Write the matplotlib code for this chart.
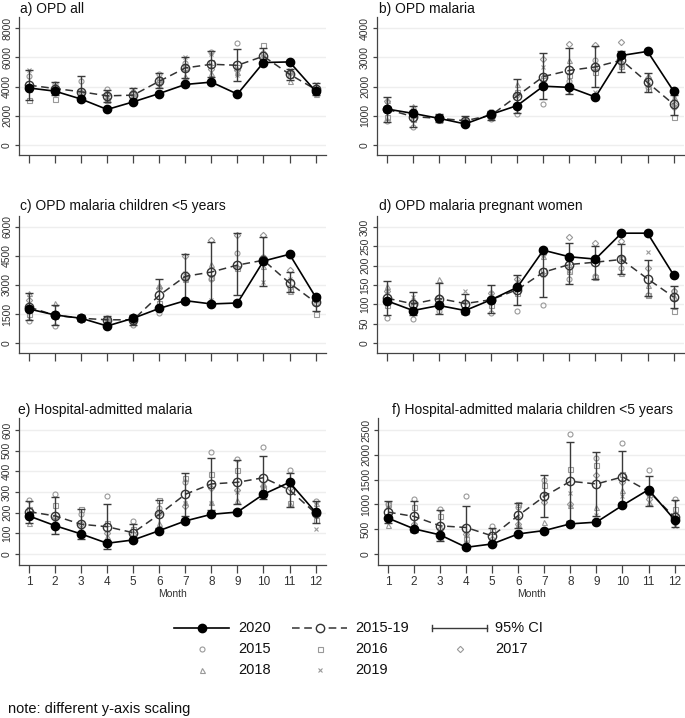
import matplotlib
matplotlib.use("Agg")
import matplotlib.pyplot as plt

plt.rcParams['font.family'] = ['Liberation Sans', 'DejaVu Sans']

months = list(range(1, 13))
year_labels = ["2015", "2016", "2017", "2018", "2019"]
year_markers = ["o", "s", "D", "^", "x"]

titles = ["a) OPD all", "b) OPD malaria", "c) OPD malaria children <5 years",
          "d) OPD malaria pregnant women", "e) Hospital-admitted malaria",
          "f) Hospital-admitted malaria children <5 years"]
y_ticks = [[0, 2000, 4000, 6000, 8000], [0, 1000, 2000, 3000, 4000],
           [0, 1500, 3000, 4500, 6000], [0, 50, 100, 150, 200, 250, 300],
           [0, 100, 200, 300, 400, 500, 600], [0, 500, 1000, 1500, 2000, 2500]]

# ---- a) OPD all
a_2020 = [3900, 3680, 3140, 2430, 2950, 3520, 4140, 4300, 3480, 5640, 5680, 3680]
a_mean = [4090, 3860, 3640, 3360, 3410, 4360, 5270, 5520, 5450, 6070, 4840, 3800]
a_lo = [3110, 3450, 3000, 2950, 2950, 3930, 4550, 4660, 4360, 5570, 4430, 3410]
a_hi = [5160, 4320, 4700, 3750, 3930, 4930, 6020, 6400, 6550, 6640, 5230, 4250]
a_years = [
    [4700, 4150, 4400, 3800, 3600, 4850, 5600, 6350, 6950, 6300, 5000, 4000],
    [3050, 3150, 3500, 3100, 3300, 4500, 5300, 5700, 5300, 6850, 4800, 3600],
    [4000, 4000, 3600, 3400, 3500, 4300, 5200, 5200, 5100, 6000, 4900, 3700],
    [3800, 3900, 3300, 3200, 3400, 4100, 4700, 4900, 5000, 5800, 4400, 3500],
    [5100, 4100, 3400, 3300, 3850, 4050, 6000, 6200, 4800, 6100, 5100, 4200],
]

# ---- b) OPD malaria
b_2020 = [1230, 1080, 910, 720, 1050, 1350, 2010, 1970, 1640, 3060, 3200, 1840]
b_mean = [1220, 970, 910, 830, 1020, 1680, 2340, 2550, 2670, 2900, 2140, 1390]
b_lo = [800, 630, 780, 680, 850, 1080, 1570, 1760, 1970, 2480, 1820, 1020]
b_hi = [1650, 1330, 1050, 1000, 1150, 2260, 3150, 3320, 3380, 3200, 2470, 1700]
b_years = [
    [820, 600, 850, 780, 900, 1050, 1400, 2200, 2900, 2800, 2000, 1300],
    [950, 900, 870, 800, 950, 1800, 2300, 2400, 2500, 2700, 1900, 950],
    [1500, 1000, 950, 850, 1000, 1700, 2950, 3450, 3430, 3530, 2300, 1400],
    [1550, 1350, 900, 900, 1100, 2100, 2400, 2900, 2700, 2800, 2400, 1650],
    [1300, 1000, 980, 820, 1150, 1750, 2650, 1800, 1800, 2700, 2100, 1600],
]

# ---- c) OPD malaria children <5 years
c_2020 = [1760, 1450, 1280, 880, 1280, 1790, 2190, 2020, 2070, 4240, 4590, 2380]
c_mean = [1860, 1430, 1280, 1200, 1200, 2470, 3450, 3670, 4030, 4280, 3100, 2100]
c_lo = [1170, 930, 1120, 1000, 950, 1760, 2200, 2140, 2500, 2930, 2620, 1670]
c_hi = [2590, 1980, 1450, 1400, 1450, 3310, 4600, 5200, 5690, 5470, 3650, 2500]
c_years = [
    [1150, 870, 1180, 1050, 950, 1550, 3300, 3300, 4650, 4450, 2900, 2050],
    [1500, 1400, 1250, 1150, 1100, 2050, 3350, 3400, 3900, 4200, 2800, 1500],
    [2200, 1500, 1300, 1250, 1250, 2850, 4500, 5350, 5600, 5600, 3750, 2200],
    [2600, 2050, 1350, 1300, 1450, 3000, 3300, 4100, 4000, 4000, 2700, 2300],
    [1850, 1350, 1300, 1250, 1300, 2900, 3600, 2200, 2000, 3150, 3300, 2450],
]

# ---- d) OPD malaria pregnant women
d_2020 = [109, 84, 97, 84, 112, 144, 240, 223, 217, 284, 284, 176]
d_mean = [116, 101, 115, 102, 112, 138, 183, 203, 209, 216, 166, 119]
d_lo = [73, 73, 76, 76, 78, 97, 118, 153, 165, 178, 121, 91]
d_hi = [160, 131, 155, 128, 151, 177, 245, 258, 252, 257, 214, 148]
d_years = [
    [65, 62, 82, 85, 78, 83, 97, 165, 172, 195, 125, 135],
    [98, 100, 100, 85, 98, 130, 190, 185, 170, 220, 125, 82],
    [135, 105, 120, 105, 130, 165, 230, 273, 258, 265, 193, 135],
    [148, 115, 165, 110, 125, 160, 225, 205, 225, 180, 150, 120],
    [135, 120, 105, 135, 130, 150, 175, 185, 220, 220, 235, 125],
]

# ---- e) Hospital-admitted malaria
e_2020 = [184, 137, 97, 52, 68, 113, 160, 192, 203, 289, 347, 202]
e_mean = [205, 184, 144, 132, 103, 192, 289, 339, 347, 369, 310, 197]
e_lo = [148, 95, 71, 23, 62, 125, 185, 215, 240, 265, 228, 152]
e_hi = [258, 274, 216, 240, 145, 261, 394, 463, 455, 474, 394, 256]
e_years = [
    [263, 292, 195, 280, 158, 225, 350, 495, 460, 520, 405, 258],
    [220, 235, 220, 150, 120, 262, 370, 385, 405, 320, 245, 165],
    [195, 180, 145, 100, 95, 200, 232, 320, 310, 330, 320, 200],
    [150, 145, 100, 85, 70, 150, 250, 250, 260, 340, 240, 245],
    [195, 170, 110, 45, 70, 125, 245, 245, 300, 335, 340, 120],
]

# ---- f) Hospital-admitted malaria children <5 years
f_2020 = [723, 507, 385, 135, 203, 405, 473, 608, 642, 980, 1297, 689]
f_mean = [845, 757, 568, 534, 365, 777, 1162, 1466, 1412, 1554, 1264, 743]
f_lo = [622, 453, 264, 95, 210, 527, 736, 668, 770, 1033, 960, 554]
f_hi = [1061, 1061, 878, 973, 520, 1027, 1588, 2264, 2054, 2074, 1568, 1081]
f_years = [
    [1000, 1100, 900, 1160, 570, 950, 1500, 2410, 1930, 2240, 1690, 1100],
    [1000, 950, 760, 300, 470, 1000, 1400, 1710, 1800, 1620, 1200, 900],
    [700, 600, 500, 400, 300, 600, 1050, 1000, 1600, 1450, 1100, 800],
    [580, 600, 350, 400, 250, 600, 650, 980, 950, 1300, 1050, 750],
    [950, 550, 330, 250, 240, 730, 1200, 1230, 780, 1160, 1270, 560],
]

panels = [
    (a_2020, a_mean, a_lo, a_hi, a_years),
    (b_2020, b_mean, b_lo, b_hi, b_years),
    (c_2020, c_mean, c_lo, c_hi, c_years),
    (d_2020, d_mean, d_lo, d_hi, d_years),
    (e_2020, e_mean, e_lo, e_hi, e_years),
    (f_2020, f_mean, f_lo, f_hi, f_years),
]

W, H = 685, 718
fig = plt.figure(figsize=(W / 100, H / 100), dpi=100)

# layout in pixels: (axes left, px of y=0, px of y=ymax, title x, title y)
layout = [
    (19, 145, 28, 20, 9),
    (377, 145, 28, 379, 9),
    (19, 343, 227, 20, 206),
    (377, 343, 227, 379, 206),
    (19, 554, 430, 18, 410),
    (378, 554, 430, 392, 410),
]
XL = (0.615, 12.4)
PXM = 26.05
LO_F, HI_F = -0.087, 1.095

GREY = "#999999"
DARK = "#333333"

for i, ((left, p0, pmax, tx, ty), (v20, vm, lo, hi, yrs)) in enumerate(zip(layout, panels)):
    ymax = y_ticks[i][-1]
    pxu = (p0 - pmax) / ymax
    top = p0 - HI_F * ymax * pxu
    bot = p0 - LO_F * ymax * pxu
    width = (XL[1] - XL[0]) * PXM
    ax = fig.add_axes([left / W, 1 - bot / H, width / W, (bot - top) / H])
    ax.set_xlim(*XL)
    ax.set_ylim(LO_F * ymax, HI_F * ymax)
    ax.set_yticks(y_ticks[i])
    ax.set_yticklabels([str(t) for t in y_ticks[i]], rotation=90, va="center",
                       fontsize=7.5, color=DARK)
    ax.set_xticks(months)
    if i >= 4:
        ax.set_xticklabels([str(m) for m in months], fontsize=8.5, color=DARK)
        ax.set_xlabel("Month", fontsize=7.5, color=DARK, labelpad=1)
    else:
        ax.set_xticklabels([])
    ax.tick_params(axis="x", length=6, width=0.9, color="#444444", pad=2)
    ax.tick_params(axis="y", length=3, width=0.9, color="#444444", pad=2)
    for s in ("top", "right"):
        ax.spines[s].set_visible(False)
    for s in ("left", "bottom"):
        ax.spines[s].set_color("#444444")
        ax.spines[s].set_linewidth(0.9)
    ax.grid(axis="y", color="#eeeeee", lw=1.0)
    ax.set_axisbelow(True)

    for yv, mk in zip(yrs, year_markers):
        if mk == "x":
            ax.plot(months, yv, ls="none", marker=mk, ms=3.0, mew=0.8,
                    color=GREY, zorder=2)
        else:
            ax.plot(months, yv, ls="none", marker=mk, ms=3.6 if mk != "D" else 3.2,
                    mew=0.8, mfc="none", mec=GREY, zorder=2)
    yerr = [[m - l for m, l in zip(vm, lo)], [h - m for m, h in zip(vm, hi)]]
    ax.errorbar(months, vm, yerr=yerr, fmt="none", ecolor="#3a3a3a",
                elinewidth=1.0, capsize=2.6, capthick=1.0, zorder=3)
    ax.plot(months, vm, ls=(0, (5, 3)), lw=1.1, color=DARK, marker="o", ms=6,
            mfc="none", mec=DARK, mew=1.0, zorder=4)
    ax.plot(months, v20, ls="-", lw=1.2, color="black", marker="o", ms=6,
            mfc="black", mec="black", zorder=5)
    fig.text(tx / W, 1 - ty / H, titles[i], fontsize=10, color="#111111",
             va="center", ha="left")

# ---- legend drawn manually in pixel space
lg = fig.add_axes([0, 0, 1, 1])
lg.set_xlim(0, W)
lg.set_ylim(H, 0)
lg.axis("off")
r1, r2, r3 = 628, 649, 670
fs = 10.5
lg.plot([174, 229], [r1, r1], color="black", lw=1.2)
lg.plot([202], [r1], "o", ms=6, color="black")
lg.text(238, r1, "2020", fontsize=fs, va="center", color="#111111")
lg.plot([292, 347], [r1, r1], color=DARK, lw=1.1, ls=(0, (5, 3)))
lg.plot([320], [r1], "o", ms=6, mfc="white", mec=DARK, mew=1.0)
lg.text(355, r1, "2015-19", fontsize=fs, va="center", color="#111111")
lg.plot([432, 487], [r1, r1], color="#3a3a3a", lw=1.0)
lg.plot([432, 432], [r1 - 3, r1 + 3], color="#3a3a3a", lw=1.0)
lg.plot([487, 487], [r1 - 3, r1 + 3], color="#3a3a3a", lw=1.0)
lg.text(495, r1, "95% CI", fontsize=fs, va="center", color="#111111")

leg_pos = [(202, r2, 238), (320, r2, 355), (460, r2, 495), (202, r3, 238), (320, r3, 355)]
for (mx, my, tx), lab, mk in zip(leg_pos, year_labels, year_markers):
    if mk == "x":
        lg.plot([mx], [my], mk, ms=3.0, mew=0.8, color=GREY)
    else:
        lg.plot([mx], [my], mk, ms=3.6 if mk != "D" else 3.2, mew=0.8,
                mfc="none", mec=GREY)
    lg.text(tx, my, lab, fontsize=fs, va="center", color="#111111")

lg.text(8, 709, "note: different y-axis scaling", fontsize=10.5, va="center",
        color="#111111")

fig.savefig("out.png", dpi=100, facecolor="white")
